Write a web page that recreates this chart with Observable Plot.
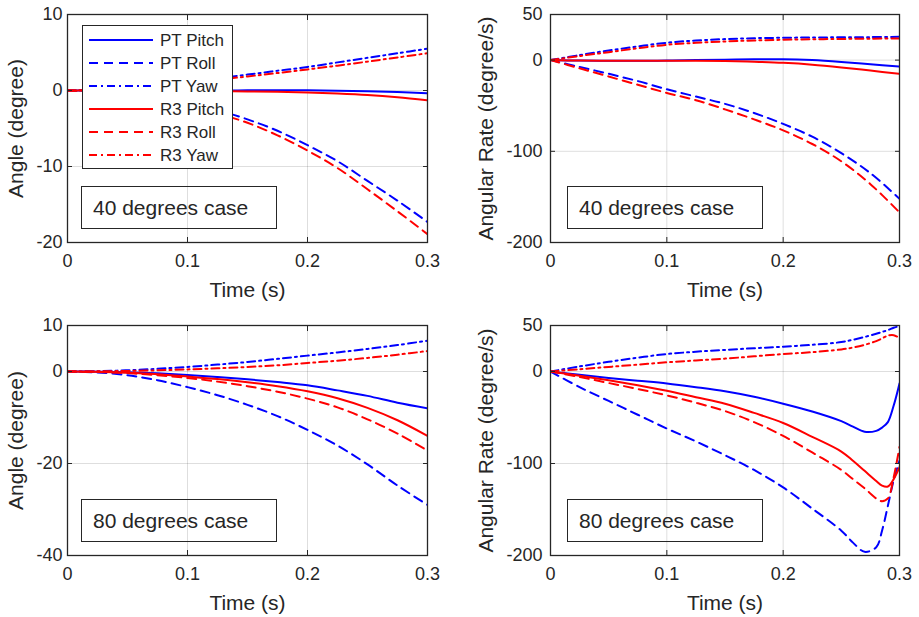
<!DOCTYPE html>
<html>
<head>
<meta charset="utf-8">
<script src="https://cdn.jsdelivr.net/npm/d3@7"></script>
<script src="https://cdn.jsdelivr.net/npm/@observablehq/plot@0.6"></script>
<style>
  body { margin: 0; background: #fff; }
  #chart { position: relative; width: 919px; height: 617px; overflow: hidden; background: #fff;
           font-family: "Liberation Sans", Arial, sans-serif; color: #262626; }
  .panel { position: absolute; }
  .panel svg { overflow: visible; }
  .note { position: absolute; border: 1px solid #262626; box-sizing: border-box; font-size: 21px;
          padding-left: 11px; display: flex; align-items: center; white-space: nowrap; }
  .legend { position: absolute; background: #fff; border: 1px solid #262626; box-sizing: border-box; }
</style>
</head>
<body>
<div id="chart"></div>
<script>
// ---------------- data ----------------
const time = [0, 0.025, 0.05, 0.075, 0.1, 0.125, 0.15, 0.175, 0.2, 0.225, 0.25, 0.275, 0.3];
const time80Rate = [0, 0.025, 0.05, 0.075, 0.1, 0.125, 0.15, 0.175, 0.2, 0.225, 0.25, 0.26, 0.27, 0.28, 0.285, 0.29, 0.295, 0.3];

const seriesNames = ["PT Pitch", "PT Roll", "PT Yaw", "R3 Pitch", "R3 Roll", "R3 Yaw"];
const seriesColors = ["#0000ff", "#0000ff", "#0000ff", "#ff0000", "#ff0000", "#ff0000"];
const seriesDashes = [null, "9,6", "8,4,2,4", null, "9,6", "8,4,2,4"];

// 40 degrees case – angle (degree)
const angle40PTPitch = [0, 0, 0, 0, 0, 0, 0.02, 0.04, 0.03, -0.02, -0.1, -0.2, -0.35];
const angle40PTRoll  = [0, -0.1, -0.4, -0.95, -1.7, -2.6, -3.8, -5.3, -7.2, -9.3, -11.9, -14.5, -17.3];
const angle40PTYaw   = [0, 0.08, 0.3, 0.65, 1.1, 1.6, 2.1, 2.6, 3.1, 3.7, 4.3, 4.9, 5.5];
const angle40R3Pitch = [0, 0, -0.01, -0.03, -0.05, -0.08, -0.12, -0.17, -0.25, -0.4, -0.6, -0.9, -1.3];
const angle40R3Roll  = [0, -0.12, -0.5, -1.1, -1.95, -3.0, -4.25, -5.9, -7.9, -10.2, -13.0, -15.9, -18.9];
const angle40R3Yaw   = [0, 0.07, 0.27, 0.58, 1.0, 1.42, 1.85, 2.3, 2.77, 3.27, 3.8, 4.35, 4.9];

// 40 degrees case – angular rate (degree/s)
const rate40PTPitch = [0, -0.5, -0.8, -0.8, -0.5, 0, 0.5, 0.8, 1, 0, -2, -4.5, -7];
const rate40PTRoll  = [0, -7.5, -15, -23, -32, -40, -48, -58, -70, -84, -102, -124, -152];
const rate40PTYaw   = [0, 5.5, 10.5, 15, 19, 21.5, 23, 24, 24.5, 24.8, 25, 25.2, 25.5];
const rate40R3Pitch = [0, -0.5, -0.8, -0.8, -0.8, -0.8, -1, -1.8, -3, -5, -8, -11.5, -15];
const rate40R3Roll  = [0, -9, -18, -27, -36, -44, -54, -65, -77, -92, -111, -136, -167];
const rate40R3Yaw   = [0, 4.5, 8.7, 13, 16.8, 19, 20.5, 21.5, 22.3, 22.8, 23.2, 23.5, 23.8];

// 80 degrees case – angle (degree)
const angle80PTPitch = [0, -0.04, -0.15, -0.4, -0.75, -1.2, -1.7, -2.3, -3.0, -4.1, -5.3, -6.8, -8.0];
const angle80PTRoll  = [0, -0.2, -0.8, -1.9, -3.4, -5.15, -7.25, -9.7, -12.7, -16.1, -20.2, -24.8, -29.0];
const angle80PTYaw   = [0, 0.07, 0.27, 0.58, 1.0, 1.5, 2.07, 2.75, 3.45, 4.15, 4.9, 5.75, 6.7];
const angle80R3Pitch = [0, -0.07, -0.27, -0.6, -1.1, -1.65, -2.35, -3.2, -4.3, -5.8, -7.9, -10.6, -14.0];
const angle80R3Roll  = [0, -0.1, -0.35, -0.8, -1.4, -2.2, -3.2, -4.4, -5.9, -7.8, -10.4, -13.5, -17.2];
const angle80R3Yaw   = [0, 0.03, 0.12, 0.26, 0.45, 0.68, 0.98, 1.35, 1.85, 2.35, 2.95, 3.65, 4.45];

// 80 degrees case – angular rate (degree/s), on time80Rate
const rate80PTPitch = [0, -3.5, -7, -10, -13, -17, -21.5, -27.5, -35, -43.5, -54, -60, -65.5, -64.5, -61, -55, -37, -13];
const rate80PTRoll  = [0, -17, -32, -47, -62, -76, -91, -107, -126, -149, -173, -186, -196, -191, -173, -146, -118, -97];
const rate80PTYaw   = [0, 5.5, 10.5, 15, 19, 21.5, 23.5, 25.3, 27, 29, 32, 34.5, 37.5, 41, 43, 45, 47.5, 49.5];
const rate80R3Pitch = [0, -4.5, -9.5, -15, -21, -28, -35, -45, -56, -71, -87, -97, -108, -119, -124, -125, -117, -104];
const rate80R3Roll  = [0, -6, -12.5, -19, -26, -34, -43, -55, -70, -88, -107, -117, -127, -138, -141, -138, -115, -82];
const rate80R3Yaw   = [0, 2.5, 5, 7.5, 10, 12, 14, 16.5, 19, 21, 24, 26, 29, 33, 36, 39, 39.5, 36.5];

const xTicks = [0, 0.1, 0.2, 0.3];
const angle40Ticks = [-20, -10, 0, 10];
const angle80Ticks = [-40, -20, 0, 10];
const rateTicks = [-200, -100, 0, 50];
const xLabel = "Time (s)";
const angleLabel = "Angle (degree)";
const rateLabel = "Angular Rate (degree/s)";
const caseLabels = ["40 degrees case", "80 degrees case"];

// ---------------- drawing ----------------
const FONT = '"Liberation Sans", Arial, sans-serif';
const INK = "#262626";
const chart = document.getElementById("chart");
const fmt = d => String(d);

function makePanel(cfg) {
  const lines = cfg.series.map((vals, i) =>
    Plot.line(cfg.t.map((t, j) => ({t, v: vals[j]})), {
      x: "t", y: "v", stroke: seriesColors[i], strokeWidth: 2,
      strokeDasharray: seriesDashes[i] || undefined, curve: "catmull-rom", clip: true
    })
  );
  const svg = Plot.plot({
    width: cfg.width, height: cfg.height,
    marginLeft: cfg.ml, marginRight: cfg.mr, marginTop: cfg.mt, marginBottom: cfg.mb,
    style: {fontFamily: FONT, fontSize: "18px", color: INK, background: "transparent"},
    x: {domain: [0, 0.3]},
    y: {domain: cfg.yDomain},
    marks: [
      Plot.gridX(xTicks, {stroke: "#000", strokeOpacity: 0.13}),
      Plot.gridY(cfg.yTicks, {stroke: "#000", strokeOpacity: 0.13}),
      ...lines,
      Plot.frame({stroke: INK, strokeWidth: 1.3}),
      Plot.axisX(xTicks, {anchor: "bottom", tickSize: 0, tickPadding: 12, tickFormat: fmt, label: null, fill: INK}),
      Plot.axisX(xTicks, {anchor: "bottom", tickSize: 0, tickFormat: () => "", label: xLabel, labelAnchor: "center", labelOffset: 54, labelArrow: "none", fontSize: 21, fill: INK}),
      Plot.axisX(xTicks, {anchor: "bottom", tickSize: -5, fill: "none", stroke: INK, label: null}),
      Plot.axisX(xTicks, {anchor: "top", tickSize: -5, fill: "none", stroke: INK, label: null}),
      Plot.axisY(cfg.yTicks, {anchor: "left", tickSize: 0, tickPadding: cfg.yPad, tickFormat: fmt, label: null, fill: INK}),
      Plot.axisY(cfg.yTicks, {anchor: "left", tickSize: 0, tickFormat: () => "", label: cfg.yLabel, labelAnchor: "center", labelOffset: cfg.yLabelOffset, labelArrow: "none", fontSize: 21, fill: INK}),
      Plot.axisY(cfg.yTicks, {anchor: "left", tickSize: -5, fill: "none", stroke: INK, label: null}),
      Plot.axisY(cfg.yTicks, {anchor: "right", tickSize: -5, fill: "none", stroke: INK, label: null})
    ]
  });
  const div = document.createElement("div");
  div.className = "panel";
  div.style.left = cfg.left + "px";
  div.style.top = cfg.top + "px";
  div.appendChild(svg);
  chart.appendChild(div);

  const note = document.createElement("div");
  note.className = "note";
  note.textContent = cfg.note;
  Object.assign(note.style, {left: cfg.noteBox[0] + "px", top: cfg.noteBox[1] + "px", width: cfg.noteBox[2] + "px", height: cfg.noteBox[3] + "px"});
  chart.appendChild(note);
}

const leftGeom  = {width: 460, ml: 67, mr: 33, yPad: 5, yLabelOffset: 59, yLabel: angleLabel};
const rightGeom = {width: 459, ml: 90, mr: 20, yPad: 8, yLabelOffset: 72, yLabel: rateLabel};

makePanel({...leftGeom, left: 0, top: 0, height: 305, mt: 14, mb: 63, t: time,
  series: [angle40PTPitch, angle40PTRoll, angle40PTYaw, angle40R3Pitch, angle40R3Roll, angle40R3Yaw],
  yDomain: [-20, 10], yTicks: angle40Ticks, note: caseLabels[0], noteBox: [81, 186, 196, 43]});
makePanel({...rightGeom, left: 460, top: 0, height: 305, mt: 14, mb: 63, t: time,
  series: [rate40PTPitch, rate40PTRoll, rate40PTYaw, rate40R3Pitch, rate40R3Roll, rate40R3Yaw],
  yDomain: [-200, 50], yTicks: rateTicks, note: caseLabels[0], noteBox: [567, 186, 196, 43]});
makePanel({...leftGeom, left: 0, top: 311, height: 306, mt: 14, mb: 62, t: time,
  series: [angle80PTPitch, angle80PTRoll, angle80PTYaw, angle80R3Pitch, angle80R3Roll, angle80R3Yaw],
  yDomain: [-40, 10], yTicks: angle80Ticks, note: caseLabels[1], noteBox: [81, 499, 196, 43]});
makePanel({...rightGeom, left: 460, top: 311, height: 306, mt: 14, mb: 62, t: time80Rate,
  series: [rate80PTPitch, rate80PTRoll, rate80PTYaw, rate80R3Pitch, rate80R3Roll, rate80R3Yaw],
  yDomain: [-200, 50], yTicks: rateTicks, note: caseLabels[1], noteBox: [567, 499, 196, 43]});

// legend (top-left panel)
const legend = document.createElement("div");
legend.className = "legend";
Object.assign(legend.style, {left: "82px", top: "25px", width: "151px", height: "144px"});
const lsvg = d3.create("svg").attr("width", 149).attr("height", 142)
  .style("display", "block").style("font-family", FONT).style("font-size", "17px");
seriesNames.forEach((name, i) => {
  const y = 14 + i * 23;
  lsvg.append("line").attr("x1", 6).attr("x2", 70).attr("y1", y).attr("y2", y)
    .attr("stroke", seriesColors[i]).attr("stroke-width", 2)
    .attr("stroke-dasharray", seriesDashes[i]);
  lsvg.append("text").attr("x", 77).attr("y", y).attr("dy", "0.35em").attr("fill", INK).text(name);
});
legend.appendChild(lsvg.node());
chart.appendChild(legend);
</script>
</body>
</html>
